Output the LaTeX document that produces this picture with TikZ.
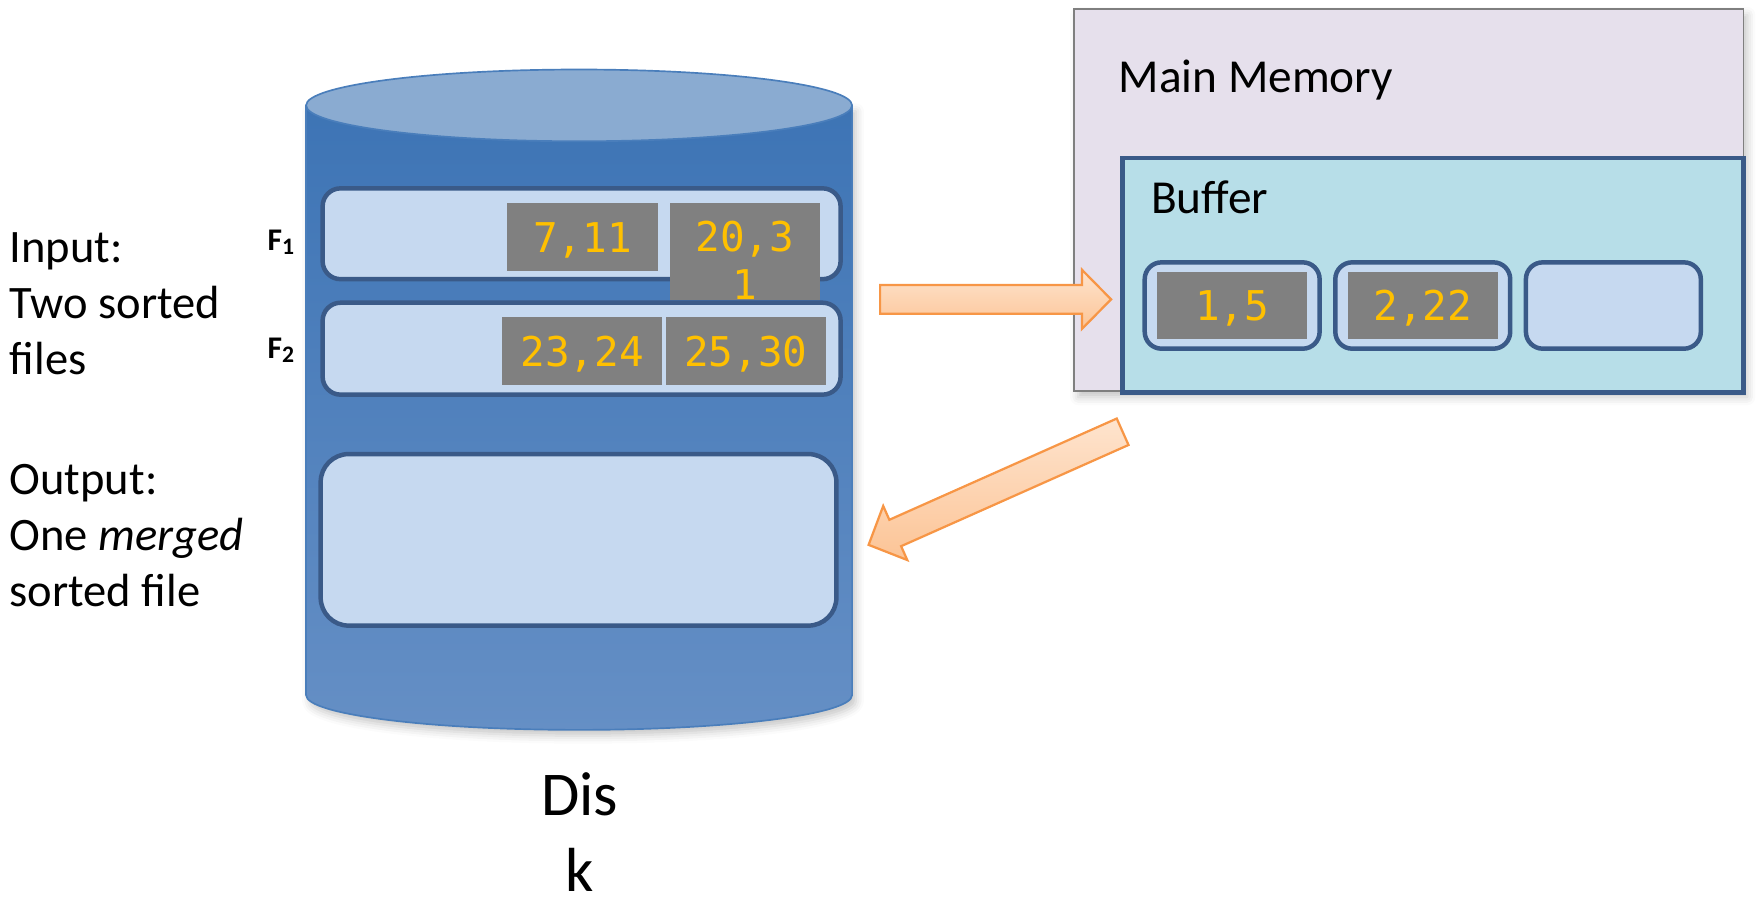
\documentclass[tikz,border=0pt]{standalone}
\usepackage{fontspec}
\setmainfont{Carlito}
\newfontfamily\cellfont{DejaVu Sans Mono}
\usetikzlibrary{positioning,shadows.blur}
\newdimen\px
\px=0.01cm
\definecolor{diskTop}{RGB}{138,171,209}
\definecolor{diskUp}{RGB}{61,116,181}
\definecolor{diskDown}{RGB}{101,143,197}
\definecolor{diskEdge}{RGB}{74,126,187}
\definecolor{fileFill}{RGB}{198,217,240}
\definecolor{fileEdge}{RGB}{58,90,136}
\definecolor{cellGray}{RGB}{128,128,128}
\definecolor{numYellow}{RGB}{255,192,0}
\definecolor{memFill}{RGB}{230,224,236}
\definecolor{memEdge}{RGB}{127,127,127}
\definecolor{bufFill}{RGB}{183,222,232}
\definecolor{arrowEdge}{RGB}{247,150,70}
\definecolor{arrowUp}{RGB}{254,228,206}
\definecolor{arrowDown}{RGB}{252,196,150}

\begin{document}
\begin{tikzpicture}[x=1\px,y=-1\px,
    filebox/.style={draw=fileEdge,fill=fileFill,line width=4\px,rounded corners=16\px,minimum width=462\px,inner sep=0pt},
    slot/.style={draw=fileEdge,fill=fileFill,line width=4\px,rounded corners=15\px,minimum width=156\px,minimum height=77\px,inner sep=0pt},
    cell/.style={fill=cellGray,text=numYellow,font=\cellfont\fontsize{10.4}{12.6}\selectfont,inner sep=0pt,minimum width=134\px,minimum height=60.5\px,text height=7.7pt,text depth=0pt},
    celltext/.style={text=numYellow,font=\cellfont\fontsize{10.4}{12.6}\selectfont,inner sep=0pt},
    sidetext/.style={font=\fontsize{11.8}{14.2}\selectfont,align=left,inner sep=0pt},
    flabel/.style={font=\bfseries\fontsize{8}{9.6}\selectfont,inner sep=0pt},
    softshadow/.style={blur shadow={shadow xshift=1pt,shadow yshift=-1.5pt,shadow blur radius=2pt,shadow opacity=22}},
    blockarrow/.style={draw=arrowEdge,line width=2\px,top color=arrowUp,bottom color=arrowDown}]
    \useasboundingbox (0,0) rectangle (1568,800);
    % disk
    \draw[line width=1.5\px,draw=diskEdge,top color=diskUp,bottom color=diskDown,softshadow] (273,94)--(273,620) arc[start angle=180,end angle=0,x radius=243.5,y radius=31]--(760,94)--cycle;
    \draw[line width=1.5\px,draw=diskEdge,fill=diskTop] (516.5,94) ellipse[x radius=243.5,y radius=32];
    \node[font=\fontsize{15.8}{19.3}\selectfont,align=center,inner sep=0pt,anchor=north] (diskName) at (517,688) {Dis\\k};
    % files on disk
    \node[filebox,minimum height=81\px] (fileOne) at (518.75,208.5) {};
    \node[cell] (c711) at (519.5,211.25) {7,11};
    \node[cell,minimum height=86.6\px,text depth=7.7pt] (c203) at (664.25,224.3) {20,3};
    \node[celltext,anchor=base] (c203b) at (664.25,267) {1};
    \node[filebox,minimum height=82\px] (fileTwo) at (518.75,311) {};
    \node[cell,minimum width=143\px,minimum height=61\px] (c2324) at (519.25,313) {23,24};
    \node[cell,minimum width=143\px,minimum height=61\px,right=1.5\px of c2324] (c2530) {25,30};
    \node[filebox,minimum width=460\px,minimum height=153\px,rounded corners=25\px] (outFile) at (516,481.5) {};
    \node[flabel,anchor=base west] (fOne) at (238,223) {F\textsubscript{1}};
    \node[flabel,anchor=base west] (fTwo) at (238,319.6) {F\textsubscript{2}};
    \node[sidetext,anchor=north west] (inputText) at (8,207.2) {Input:\\Two sorted\\files};
    \node[sidetext,anchor=north west] (outputText) at (8,413.5) {Output:\\One \textit{merged}\\sorted file};
    % main memory and buffer
    \node[draw=memEdge,fill=memFill,line width=1.5\px,minimum width=597\px,minimum height=341\px,inner sep=0pt,softshadow] (memory) at (1256.5,178.5) {};
    \node[font=\fontsize{12}{14.4}\selectfont,inner sep=0pt,anchor=base west] (memTitle) at (997,82.5) {Main Memory};
    \node[draw=fileEdge,fill=bufFill,line width=4\px,minimum width=554\px,minimum height=209\px,inner sep=0pt] (buffer) at (1278,245.5) {};
    \node[font=\fontsize{12}{14.4}\selectfont,inner sep=0pt,anchor=base west] (bufTitle) at (1026,190.3) {Buffer};
    \node[slot] (slotA) at (1099,272.5) {};
    \node[slot,right=10\px of slotA] (slotB) {};
    \node[slot,right=10\px of slotB] (slotC) {};
    \node[cell] (c15) at (slotA) {1,5};
    \node[cell] (c222) at (slotB) {2,22};
    % arrows
    \begin{scope}[shift={(785,267)}]
        \draw[blockarrow] (0,-12.8)--(180,-12.8)--(180,-26.4)--(206,0)--(180,26.4)--(180,12.8)--(0,12.8)--cycle;
    \end{scope}
    \begin{scope}[shift={(1001.3,385.1)},rotate=204]
        \draw[blockarrow] (0,-12.9)--(222,-12.9)--(222,-26.4)--(248,0)--(222,26.4)--(222,12.9)--(0,12.9)--cycle;
    \end{scope}
\end{tikzpicture}
\end{document}
